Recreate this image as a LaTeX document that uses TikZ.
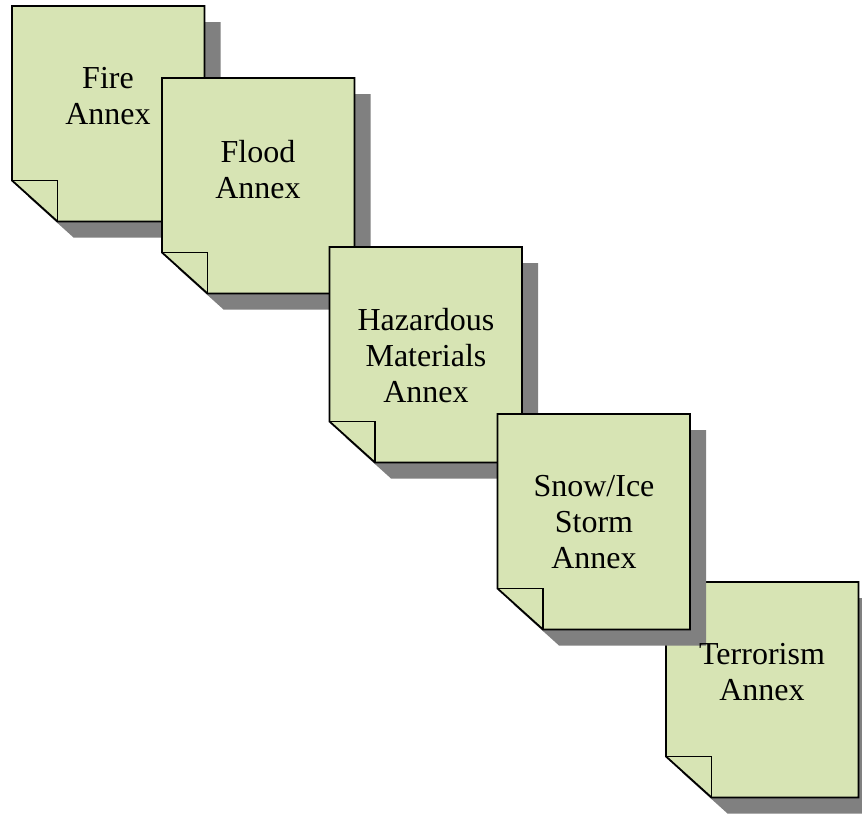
\documentclass[tikz,border=0pt]{standalone}
\usepackage{fontspec}
\setmainfont{Liberation Serif}
\definecolor{docgreen}{HTML}{D7E4B4}
\definecolor{shadowgray}{HTML}{808080}
\tikzset{
  docface/.style={fill=docgreen, draw=black, line width=1.8pt, line join=miter},
  foldline/.style={draw=black, line width=1.8pt},
  docshadow/.style={fill=shadowgray},
  doctext/.style={anchor=north, align=center, inner sep=0pt,
    font=\fontsize{32}{36}\selectfont, text=black},
  pics/docshadowpic/.style={code={
    \path[docshadow] (16,16) -- ++(192.5,0) -- ++(0,215.5) -- ++(-147,0) -- ++(-45.5,-41) -- cycle;
  }},
  pics/docbodypic/.style={code={
    \path[docface] (0,0) -- (192.5,0) -- (192.5,215.5) -- (45.5,215.5) -- (0,174.5) -- cycle;
    \path[foldline] (0,174.5) -- (45.5,174.5) -- (45.5,215.5);
  }}
}
\begin{document}
\begin{tikzpicture}[x=1pt,y=-1pt]
\useasboundingbox (0,0) rectangle (862,814);
% Fire
\pic at (12,6) {docshadowpic};
\pic at (12,6) {docbodypic};
\node[doctext] (fire) at (108,67.5) {Fire\\Annex};
% Flood
\pic at (162,78) {docshadowpic};
\pic at (162,78) {docbodypic};
\node[doctext] (flood) at (258,140.5) {Flood\\Annex};
% Hazardous
\pic at (329.5,247) {docshadowpic};
\pic at (329.5,247) {docbodypic};
\node[doctext] (hazmat) at (426,308) {Hazardous\\Materials\\Annex};
% Terrorism body (drawn beneath the Snow/Ice shadow)
\pic at (666,582) {docshadowpic};
\pic at (666,582) {docbodypic};
% Snow/Ice
\pic at (497.5,414) {docshadowpic};
\pic at (497.5,414) {docbodypic};
\node[doctext] (snow) at (594,475.5) {Snow/Ice\\Storm\\Annex};
% Terrorism text
\node[doctext] (terror) at (762,643.5) {Terrorism\\Annex};
\end{tikzpicture}
\end{document}
